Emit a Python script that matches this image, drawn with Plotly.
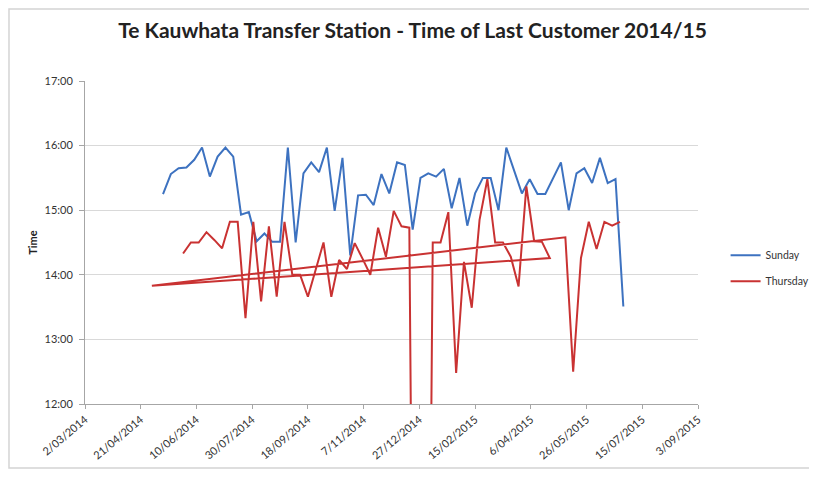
import plotly.graph_objects as go

# ---- data ----
sunday_dates = [
    "2014-05-11", "2014-05-18", "2014-05-25", "2014-06-01", "2014-06-08", "2014-06-15",
    "2014-06-22", "2014-06-29", "2014-07-06", "2014-07-13", "2014-07-20", "2014-07-27",
    "2014-08-03", "2014-08-10", "2014-08-17", "2014-08-24", "2014-08-31", "2014-09-07",
    "2014-09-14", "2014-09-21", "2014-09-28", "2014-10-05", "2014-10-12", "2014-10-19",
    "2014-10-26", "2014-11-02", "2014-11-09", "2014-11-16", "2014-11-23", "2014-11-30",
    "2014-12-07", "2014-12-14", "2014-12-21", "2014-12-28", "2015-01-04", "2015-01-11",
    "2015-01-18", "2015-01-25", "2015-02-01", "2015-02-08", "2015-02-15", "2015-02-22",
    "2015-03-01", "2015-03-08", "2015-03-15", "2015-03-22", "2015-03-29", "2015-04-05",
    "2015-04-12", "2015-04-19", "2015-04-26", "2015-05-03", "2015-05-10", "2015-05-17",
    "2015-05-24", "2015-05-31", "2015-06-07", "2015-06-14", "2015-06-21", "2015-06-28",
]
sunday_hours = [
    15.25, 15.56, 15.65, 15.66, 15.78, 15.97, 15.52, 15.83, 15.97, 15.83,
    14.93, 14.97, 14.52, 14.64, 14.51, 14.51, 15.97, 14.50, 15.57, 15.74,
    15.59, 15.97, 14.99, 15.81, 14.30, 15.23, 15.24, 15.08, 15.56, 15.26,
    15.74, 15.70, 14.70, 15.50, 15.57, 15.52, 15.64, 15.03, 15.50, 14.76,
    15.26, 15.50, 15.50, 15.00, 15.97, 15.62, 15.26, 15.48, 15.25, 15.25,
    15.50, 15.74, 15.00, 15.57, 15.65, 15.42, 15.81, 15.42, 15.48, 13.51,
]

thursday_dates = [
    "2014-05-29", "2014-06-05", "2014-06-12", "2014-06-19", "2014-06-26", "2014-07-03",
    "2014-07-10", "2014-07-17", "2014-07-24", "2014-07-31", "2014-08-07", "2014-08-14",
    "2014-08-21", "2014-08-28", "2014-09-04", "2014-09-11", "2014-09-18", "2014-09-25",
    "2014-10-02", "2014-10-09", "2014-10-16", "2014-10-23", "2014-10-30", "2014-11-06",
    "2014-11-13", "2014-11-20", "2014-11-27", "2014-12-04", "2014-12-11", "2014-12-18",
    "2014-12-25", "2015-01-01", "2015-01-08", "2015-01-15", "2015-01-22", "2015-01-29",
    "2015-02-05", "2015-02-12", "2015-02-19", "2015-02-26", "2015-03-05", "2015-03-12",
    "2015-03-19", "2015-03-26", "2015-04-02", "2015-04-09", "2015-04-16", "2015-04-23",
    "2014-05-01", "2015-05-07", "2015-05-14", "2015-05-21", "2015-05-28", "2015-06-04",
    "2015-06-11", "2015-06-18", "2015-06-25",
]
thursday_hours = [
    14.33, 14.50, 14.50, 14.66, 14.54, 14.41, 14.82, 14.82, 13.33, 14.82,
    13.59, 14.75, 13.66, 14.82, 14.00, 14.00, 13.66, 14.08, 14.50, 13.66,
    14.23, 14.09, 14.49, 14.25, 14.00, 14.73, 14.28, 14.99, 14.75, 14.73,
    0.00, 0.00, 14.50, 14.50, 14.97, 12.48, 14.20, 13.49, 14.85, 15.48,
    14.50, 14.50, 14.28, 13.82, 15.37, 14.52, 14.51, 14.26, 13.83, 14.58,
    12.50, 14.26, 14.82, 14.40, 14.82, 14.76, 14.82,
]

x_tick_vals = [
    "2014-03-02", "2014-04-21", "2014-06-10", "2014-07-30", "2014-09-18", "2014-11-07",
    "2014-12-27", "2015-02-15", "2015-04-06", "2015-05-26", "2015-07-15", "2015-09-03",
]
x_tick_text = [
    "2/03/2014", "21/04/2014", "10/06/2014", "30/07/2014", "18/09/2014", "7/11/2014",
    "27/12/2014", "15/02/2015", "6/04/2015", "26/05/2015", "15/07/2015", "3/09/2015",
]
y_tick_vals = [12, 13, 14, 15, 16, 17]
y_tick_text = ["12:00", "13:00", "14:00", "15:00", "16:00", "17:00"]

title_text = "Te Kauwhata Transfer Station - Time of Last Customer 2014/15"

fig = go.Figure()
fig.add_trace(go.Scatter(x=sunday_dates, y=sunday_hours, mode="lines", name="Sunday",
                         legendgroup="sun",
                         line=dict(color="#3d72c0", width=2)))
fig.add_trace(go.Scatter(x=thursday_dates, y=thursday_hours, mode="lines", name="Thursday",
                         legendgroup="thu",
                         line=dict(color="#c93232", width=2)))

# the page body adds an 8px offset, so the figure is sized 8px smaller
fig.update_layout(
    width=809, height=482,
    margin=dict(l=77, r=119, t=73, b=86, autoexpand=False),
    paper_bgcolor="white", plot_bgcolor="white",
    title=dict(text="<b>" + title_text + "</b>", x=0.5, xanchor="center",
               y=0.952, yanchor="middle",
               font=dict(family="Lato", size=21, color="#222222")),
    font=dict(family="Lato", color="#333333"),
    legend=dict(x=1.045, y=0.42, xanchor="left", yanchor="middle",
                font=dict(size=10.5, color="#333333"), itemwidth=30,
                tracegroupgap=7, bgcolor="rgba(0,0,0,0)"),
    showlegend=True,
)
fig.update_xaxes(
    type="date", range=["2014-03-02", "2015-09-03"], automargin=False,
    tickvals=x_tick_vals, ticktext=x_tick_text, tickangle=-40,
    tickfont=dict(size=11, color="#333333"),
    showgrid=False, showline=True, linecolor="#a6a6a6", linewidth=1,
    ticks="outside", ticklen=4, tickcolor="#a6a6a6", zeroline=False,
)
fig.update_yaxes(
    range=[12, 17], tickvals=y_tick_vals, ticktext=y_tick_text, automargin=False,
    tickfont=dict(size=11, color="#333333"), ticklabelstandoff=4,
    showgrid=True, gridcolor="#d9d9d9", gridwidth=1,
    showline=True, linecolor="#a6a6a6", linewidth=1,
    ticks="outside", ticklen=5, tickcolor="#a6a6a6", zeroline=False,
    title=dict(text="<b>Time</b>", font=dict(size=11, color="#222222"), standoff=4),
)
# outer chart border
fig.add_shape(type="rect", xref="paper", yref="paper",
              x0=-0.1240, x1=1.186, y0=-0.198, y1=1.223,
              line=dict(color="#d4d4d4", width=1.5), fillcolor="rgba(0,0,0,0)", layer="below")

fig.write_html("out.html")
